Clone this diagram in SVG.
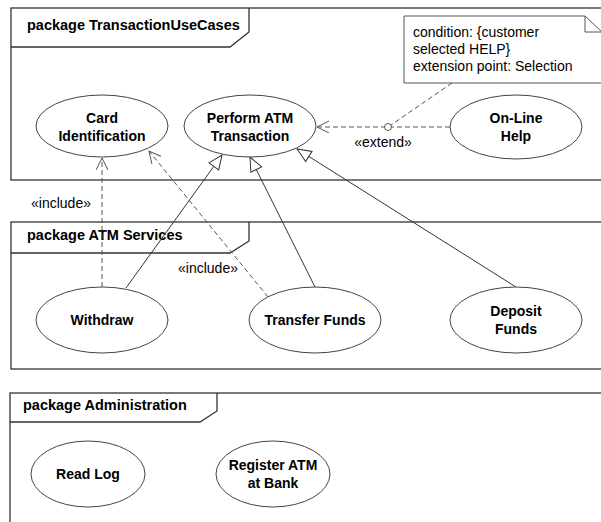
<svg xmlns="http://www.w3.org/2000/svg" width="601" height="522" viewBox="0 0 601 522">
<style>
.frame{fill:none;stroke:#333;stroke-width:1.3}
.uc{fill:#fff;stroke:#444;stroke-width:1}
.t{font-family:"Liberation Sans",Arial,sans-serif;font-size:14px;fill:#000}
.b{font-weight:bold;text-anchor:middle}
.pk{font-family:"Liberation Sans",Arial,sans-serif;font-size:14.5px;font-weight:bold;fill:#000}
.dash{fill:none;stroke:#555;stroke-width:1;stroke-dasharray:5,3}
.solid{fill:none;stroke:#333;stroke-width:1}
</style>
<defs>
<marker id="open" markerWidth="14" markerHeight="14" refX="12" refY="6" orient="auto" markerUnits="userSpaceOnUse">
<path d="M0,0 L12,6 L0,12" fill="none" stroke="#555" stroke-width="1"/>
</marker>
<marker id="gen" markerWidth="18" markerHeight="16" refX="15" refY="7" orient="auto" markerUnits="userSpaceOnUse">
<path d="M1,1 L15,7 L1,13 Z" fill="#fff" stroke="#333" stroke-width="1"/>
</marker>
</defs>
<rect width="601" height="522" fill="#fff"/>

<g id="pkg-transaction">
<rect class="frame" x="11" y="8" width="600" height="172"/>
<path class="frame" d="M11,47 H230 L249,32 V8"/>
<text class="pk" x="27" y="30">package TransactionUseCases</text>
</g>
<g id="pkg-services">
<rect class="frame" x="11" y="222" width="600" height="147"/>
<path class="frame" d="M11,253 H230 L249,241 V222"/>
<text class="pk" x="27" y="240">package ATM Services</text>
</g>
<g id="pkg-admin">
<rect class="frame" x="10" y="393" width="600" height="140"/>
<path class="frame" d="M10,422 H200 L217,411 V393"/>
<text class="pk" x="23" y="410">package Administration</text>
</g>

<g id="connectors">
<path class="dash" d="M450,127 H317" marker-end="url(#open)"/>
<path class="dash" d="M452,83 L391,125"/>
<circle cx="388" cy="127" r="3.5" fill="#fff" stroke="#555" stroke-width="1"/>
<text class="t" x="383" y="147" text-anchor="middle">«extend»</text>
<path class="dash" d="M102,287 V158" marker-end="url(#open)"/>
<text class="t" x="61" y="208" text-anchor="middle">«include»</text>
<path class="dash" d="M268,297 L149,151" marker-end="url(#open)"/>
<text class="t" x="208" y="273" text-anchor="middle">«include»</text>
<path class="solid" d="M126,288 L222,155" marker-end="url(#gen)"/>
<path class="solid" d="M315,287 L250,157" marker-end="url(#gen)"/>
<path class="solid" d="M516,287 L297,149" marker-end="url(#gen)"/>
</g>

<g id="note">
<path d="M404,16 H585 L602,32 V83 H404 Z" fill="#fff" stroke="#555" stroke-width="1"/>
<path d="M585,16 V32 H602" fill="none" stroke="#555" stroke-width="1"/>
<text class="t" x="413" y="37">condition: {customer</text>
<text class="t" x="413" y="54">selected HELP}</text>
<text class="t" x="413" y="71">extension point: Selection</text>
</g>

<g id="uc-card">
<ellipse class="uc" cx="102" cy="126" rx="66" ry="31"/>
<text class="t b" x="102" y="123">Card</text>
<text class="t b" x="102" y="141">Identification</text>
</g>
<g id="uc-perform">
<ellipse class="uc" cx="250" cy="126" rx="66" ry="31"/>
<text class="t b" x="250" y="123">Perform ATM</text>
<text class="t b" x="250" y="141">Transaction</text>
</g>
<g id="uc-help">
<ellipse class="uc" cx="516" cy="127" rx="66" ry="32"/>
<text class="t b" x="516" y="123">On-Line</text>
<text class="t b" x="516" y="141">Help</text>
</g>
<g id="uc-withdraw">
<ellipse class="uc" cx="102" cy="320" rx="66" ry="33"/>
<text class="t b" x="102" y="325">Withdraw</text>
</g>
<g id="uc-transfer">
<ellipse class="uc" cx="315" cy="320" rx="66" ry="33"/>
<text class="t b" x="315" y="325">Transfer Funds</text>
</g>
<g id="uc-deposit">
<ellipse class="uc" cx="516" cy="320" rx="66" ry="33"/>
<text class="t b" x="516" y="316">Deposit</text>
<text class="t b" x="516" y="334">Funds</text>
</g>
<g id="uc-readlog">
<ellipse class="uc" cx="88" cy="474" rx="57" ry="33"/>
<text class="t b" x="88" y="479">Read Log</text>
</g>
<g id="uc-register">
<ellipse class="uc" cx="273" cy="474" rx="57" ry="33"/>
<text class="t b" x="273" y="470">Register ATM</text>
<text class="t b" x="273" y="488">at Bank</text>
</g>
</svg>
